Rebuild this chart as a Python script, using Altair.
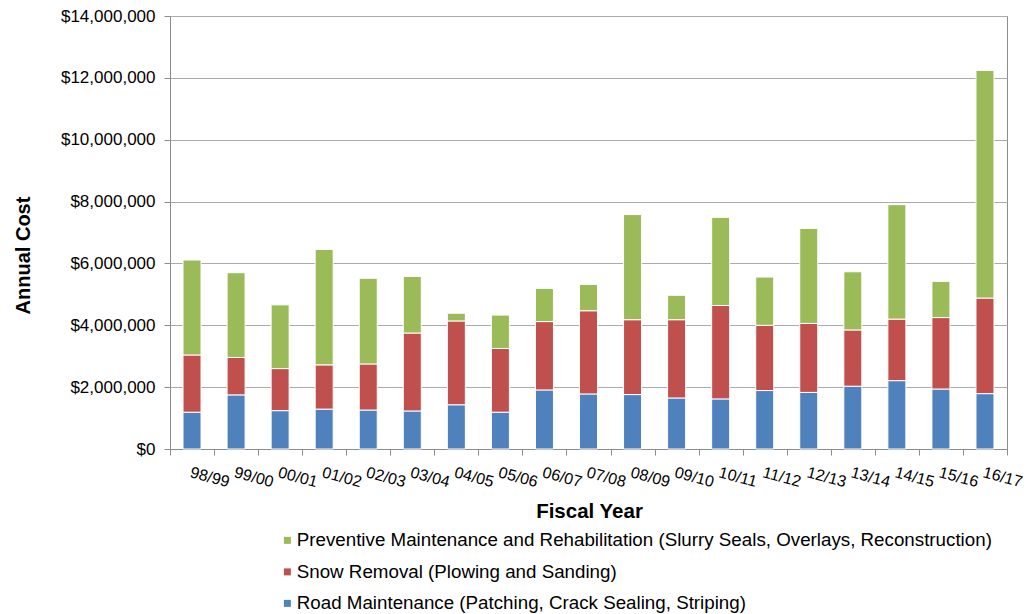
import altair as alt
import pandas as pd

years = ["98/99", "99/00", "00/01", "01/02", "02/03", "03/04", "04/05", "05/06", "06/07",
         "07/08", "08/09", "09/10", "10/11", "11/12", "12/13", "13/14", "14/15", "15/16", "16/17"]

road = [1190000, 1750000, 1240000, 1290000, 1260000, 1230000, 1430000, 1190000, 1910000,
        1780000, 1760000, 1650000, 1620000, 1890000, 1830000, 2030000, 2210000, 1940000, 1790000]
snow = [1850000, 1210000, 1360000, 1430000, 1490000, 2520000, 2710000, 2060000, 2210000,
        2690000, 2420000, 2530000, 3020000, 2110000, 2230000, 1820000, 1990000, 2310000, 3090000]
prev = [3070000, 2740000, 2060000, 3730000, 2770000, 1830000, 250000, 1080000, 1070000,
        850000, 3400000, 790000, 2850000, 1560000, 3070000, 1880000, 3700000, 1170000, 7360000]

series = [
    "Preventive Maintenance and Rehabilitation (Slurry Seals, Overlays, Reconstruction)",
    "Snow Removal (Plowing and Sanding)",
    "Road Maintenance (Patching, Crack Sealing, Striping)",
]
colors = ["#9BBB59", "#C0504D", "#4F81BD"]
y_ticks = [0, 2000000, 4000000, 6000000, 8000000, 10000000, 12000000, 14000000]

rows = []
for i, yr in enumerate(years):
    rows.append({"year": yr, "series": series[2], "cost": road[i], "rank": 1})
    rows.append({"year": yr, "series": series[1], "cost": snow[i], "rank": 2})
    rows.append({"year": yr, "series": series[0], "cost": prev[i], "rank": 3})
df = pd.DataFrame(rows)

FONT = "Liberation Sans"

chart = alt.Chart(df).mark_bar(size=18, stroke="white", strokeWidth=1).encode(
    x=alt.X("year:N", sort=years, title="Fiscal Year",
            scale=alt.Scale(paddingInner=0, paddingOuter=0),
            axis=alt.Axis(labelAngle=15, labelAlign="left", labelBaseline="top",
                          labelPadding=9, labelFontSize=16, labelFont=FONT,
                          labelColor="#000000", tickBand="extent", tickSize=6,
                          tickColor="#8c8c8c", domainColor="#8c8c8c",
                          titleFont=FONT, titleFontSize=20.5, titleFontWeight="bold",
                          titleColor="#000000", titleX=419, titleY=62,
                          titleBaseline="middle", titleAlign="center",
                          grid=False, labelOverlap=False)),
    y=alt.Y("cost:Q", title="Annual Cost", stack="zero",
            scale=alt.Scale(domain=[0, 14000000], nice=False),
            axis=alt.Axis(values=y_ticks, format="$,.0f", labelFontSize=17,
                          labelFont=FONT, labelColor="#000000", labelPadding=9,
                          tickSize=6, tickColor="#8c8c8c", domainColor="#8c8c8c",
                          gridColor="#ababab", titleFont=FONT, titleFontSize=20,
                          titleFontWeight="bold", titleColor="#000000",
                          titleAngle=-90, titleX=-147, titleY=239,
                          titleBaseline="middle", titleAlign="center")),
    color=alt.Color("series:N",
                    scale=alt.Scale(domain=series, range=colors),
                    legend=alt.Legend(title=None, orient="none", legendX=108, legendY=515,
                                      direction="vertical", symbolType="square",
                                      symbolSize=49, symbolStrokeWidth=0,
                                      labelFont=FONT, labelFontSize=18.75,
                                      labelColor="#000000", labelLimit=0,
                                      labelOffset=0, rowPadding=11.5)),
    order=alt.Order("rank:Q", sort="ascending"),
).properties(
    width=837, height=433,
    autosize=alt.AutoSizeParams(type="none"),
    padding={"left": 162, "top": 8, "right": 16, "bottom": 165},
).configure_view(stroke="#8c8c8c", strokeWidth=1)

chart.save("out.html", embed_options={"renderer": "svg", "actions": False})
